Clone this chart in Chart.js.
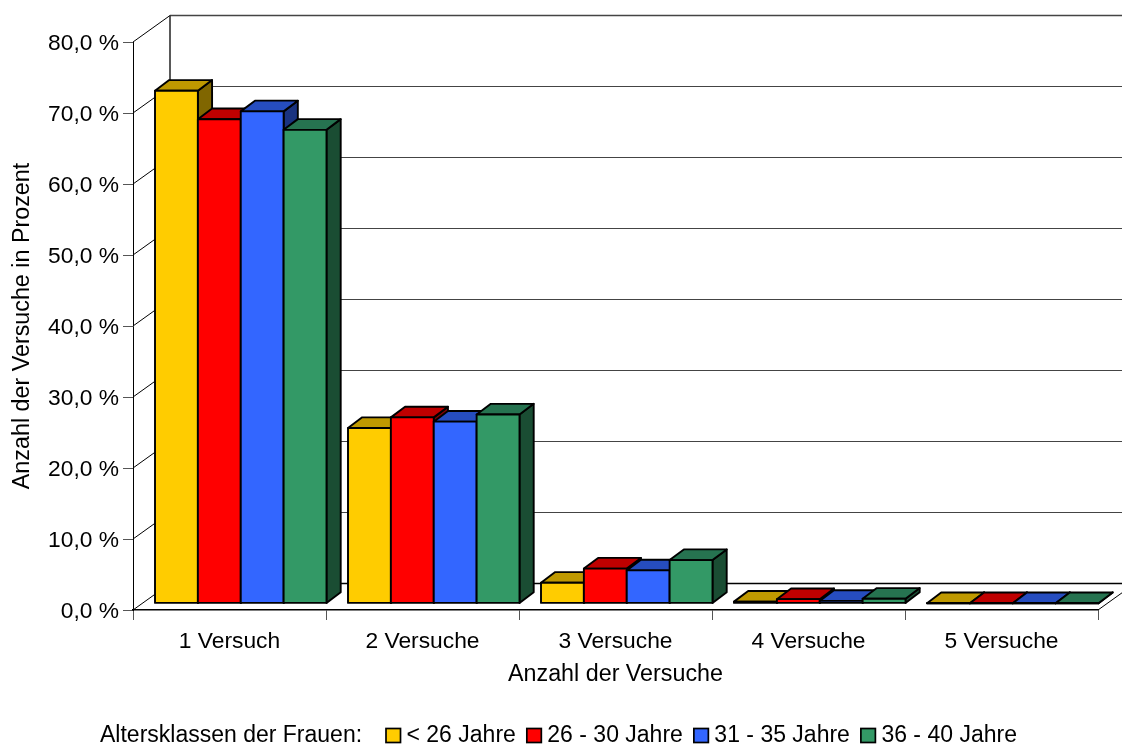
<!DOCTYPE html>
<html>
<head>
<meta charset="utf-8">
<title>Anzahl der Versuche</title>
<script src="https://cdn.jsdelivr.net/npm/chart.js@4"></script>
<style>
  html, body { margin: 0; padding: 0; background: #fff; }
  canvas { display: block; }
</style>
</head>
<body>
<canvas id="chartCanvas" width="1122" height="745"></canvas>
<script>
const categories = ['1 Versuch', '2 Versuche', '3 Versuche', '4 Versuche', '5 Versuche'];
const seriesNames = ['< 26 Jahre', '26 - 30 Jahre', '31 - 35 Jahre', '36 - 40 Jahre'];
const under26 = [72.2, 24.7, 2.9, 0.25, 0.03];
const age26to30 = [68.2, 26.2, 4.9, 0.6, 0.03];
const age31to35 = [69.3, 25.6, 4.65, 0.35, 0.03];
const age36to40 = [66.7, 26.6, 6.1, 0.65, 0.03];
const seriesValues = [under26, age26to30, age31to35, age36to40];

const frontColors = ['#FFCC00', '#FF0000', '#3366FF', '#339966'];
const topColors = ['#BF9900', '#BF0000', '#264DBF', '#267350'];
const sideColors = ['#806600', '#800000', '#1A3380', '#1A4D33'];

const legendTitle = 'Altersklassen der Frauen:';
const fontFamily = '"Liberation Sans", Arial, sans-serif';

// offsets of the fake 3d view
const wallDx = 37, wallDy = -26.5;
const barDx = 11.25, barDy = -6.6;
const depthDx = 14.2, depthDy = -10.7;

function poly(ctx, pts, fill) {
  ctx.beginPath();
  ctx.moveTo(pts[0][0], pts[0][1]);
  for (let i = 1; i < pts.length; i++) ctx.lineTo(pts[i][0], pts[i][1]);
  ctx.closePath();
  ctx.fillStyle = fill;
  ctx.fill();
  ctx.stroke();
}

function line(ctx, x1, y1, x2, y2) {
  ctx.beginPath();
  ctx.moveTo(x1, y1);
  ctx.lineTo(x2, y2);
  ctx.stroke();
}

const walls = {
  id: 'walls',
  beforeDatasetsDraw(chart) {
    const ctx = chart.ctx, y = chart.scales.y, area = chart.chartArea;
    const backX = area.left + wallDx;
    ctx.save();
    y.ticks.forEach((t) => {
      const py = y.getPixelForValue(t.value);
      ctx.lineWidth = 1;
      ctx.strokeStyle = '#000';
      line(ctx, area.left, py, backX, py + wallDy);
      ctx.strokeStyle = t.value === 0 ? '#000' : '#444';
      ctx.lineWidth = t.value === 80 || t.value === 0 ? 1.5 : 1;
      line(ctx, backX, py + wallDy, chart.width, py + wallDy);
    });
    ctx.strokeStyle = '#222';
    ctx.lineWidth = 1.5;
    line(ctx, backX, area.top + wallDy, backX, area.bottom + wallDy);
    ctx.strokeStyle = '#000';
    ctx.lineWidth = 1;
    line(ctx, area.right, area.bottom, area.right + wallDx, area.bottom + wallDy);
    ctx.restore();
  },
  // chart.js paints the last dataset first, the boxes need left to right
  beforeDatasetDraw() {
    return false;
  },
  afterDatasetsDraw(chart) {
    const ctx = chart.ctx;
    ctx.save();
    ctx.translate(barDx, barDy);
    ctx.strokeStyle = '#000';
    ctx.lineWidth = 1.9;
    ctx.lineJoin = 'round';
    seriesNames.forEach((name, i) => {
      const meta = chart.getDatasetMeta(i);
      meta.data.forEach((bar) => {
        const l = bar.x - bar.width / 2, r = bar.x + bar.width / 2;
        poly(ctx, [[r, bar.y], [r + depthDx, bar.y + depthDy], [r + depthDx, bar.base + depthDy], [r, bar.base]], sideColors[i]);
        poly(ctx, [[l, bar.y], [l + depthDx, bar.y + depthDy], [r + depthDx, bar.y + depthDy], [r, bar.y]], topColors[i]);
      });
      meta.controller.draw();
      meta.data.forEach((bar) => {
        ctx.strokeRect(bar.x - bar.width / 2, bar.y, bar.width, bar.base - bar.y);
      });
    });
    ctx.restore();
  },
  afterDraw(chart) {
    // legend in one row with its title, boxes sit closer to the text than the stock legend allows
    const ctx = chart.ctx;
    const cy = 736;
    ctx.save();
    ctx.font = '23px ' + fontFamily;
    ctx.textBaseline = 'middle';
    ctx.fillStyle = '#000';
    ctx.fillText(legendTitle, 100, cy);
    let x = 386;
    seriesNames.forEach((name, i) => {
      ctx.fillStyle = frontColors[i];
      ctx.strokeStyle = '#000';
      ctx.lineWidth = 1.7;
      ctx.fillRect(x, 728.5, 14.5, 14);
      ctx.strokeRect(x, 728.5, 14.5, 14);
      ctx.fillStyle = '#000';
      ctx.fillText(name, x + 20.5, cy);
      x += 20.5 + ctx.measureText(name).width + 11;
    });
    ctx.restore();
  }
};

const tickFont = { family: fontFamily, size: 22.8 };
const titleFont = { family: fontFamily, size: 23.3 };

new Chart(document.getElementById('chartCanvas').getContext('2d'), {
  type: 'bar',
  data: {
    labels: categories,
    datasets: seriesNames.map((name, i) => ({
      label: name,
      data: seriesValues[i],
      backgroundColor: frontColors[i],
      borderWidth: 0
    }))
  },
  options: {
    responsive: false,
    animation: false,
    categoryPercentage: 171.5 / 193,
    barPercentage: 1,
    layout: { padding: { top: 42, right: 24 } },
    plugins: { legend: { display: false }, tooltip: { enabled: false } },
    scales: {
      x: {
        afterFit(s) { s.height = 135; },
        border: { color: '#000', width: 1.5 },
        grid: { drawOnChartArea: false, tickLength: 10, tickColor: '#555' },
        ticks: { font: tickFont, color: '#000', padding: 8, maxRotation: 0, autoSkip: false },
        title: { display: true, text: 'Anzahl der Versuche', font: titleFont, color: '#000', padding: { top: 0, bottom: 56 } }
      },
      y: {
        min: 0,
        max: 80,
        afterFit(s) { s.width = 133; },
        border: { color: '#000', width: 1 },
        grid: { drawOnChartArea: false, tickLength: 10, tickColor: '#555' },
        ticks: {
          font: tickFont,
          color: '#000',
          padding: 4,
          stepSize: 10,
          labelOffset: 2,
          callback: (v) => v.toFixed(1).replace('.', ',') + ' %'
        },
        title: { display: true, text: 'Anzahl der Versuche in Prozent', font: titleFont, color: '#000', padding: { top: 9, bottom: 0 } }
      }
    }
  },
  plugins: [walls]
});
</script>
</body>
</html>
